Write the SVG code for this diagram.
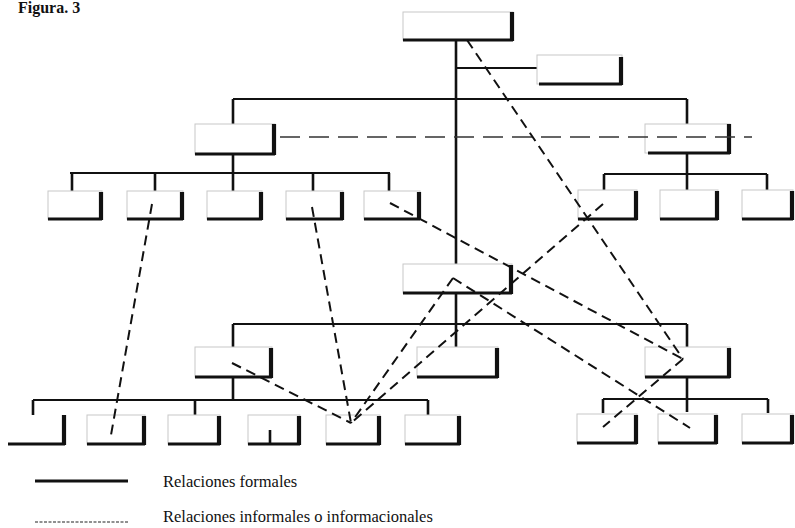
<svg xmlns="http://www.w3.org/2000/svg" width="795" height="528" viewBox="0 0 795 528">
<style>
.bx{fill:none;stroke:#c8c8c8;stroke-width:1}
.sb{fill:none;stroke:#111;stroke-width:2.8}
.sr{fill:none;stroke:#111;stroke-width:4.2}
.sol{fill:none;stroke:#111;stroke-width:2.6}
.hz{fill:none;stroke:#111;stroke-width:2.2}
.dsh{fill:none;stroke:#111;stroke-width:2;stroke-dasharray:10 6}
.dlong{fill:none;stroke:#333;stroke-width:1.5;stroke-dasharray:20 9}
.t{font-family:"Liberation Serif","Times New Roman",serif;fill:#111}
</style>
<rect width="795" height="528" fill="#fff"/>
<text class="t" x="18" y="13" font-size="16" font-weight="bold">Figura. 3</text>

<g id="formal-connectors">
<path class="sol" d="M456,40V264M456,293V347"/>
<path class="hz" d="M456,68H537"/>
<path class="hz" d="M233,99H687"/>
<path class="sol" d="M233,99V124M687,99V124"/>
<path class="sol" d="M233,154V173M687,153V174"/>
<path class="hz" d="M70,173H390M604,174H767"/>
<path class="sol" d="M72,173V191M155,173V191M233,173V191M313,173V191M389,173V191M604,174V190M687,174V190M767,174V190"/>
<path class="hz" d="M233,324H687"/>
<path class="sol" d="M233,324V347M687,324V347"/>
<path class="sol" d="M233,377V400M687,377V412"/>
<path class="hz" d="M33,400H428M603,399H768"/>
<path class="sol" d="M33,400V415M195,400V415M428,400V415M603,399V413M768,399V413"/>
</g>

<g id="n-top"><rect class="bx" x="403" y="12" width="110" height="28"/><path class="sb" d="M403,40H513"/><path class="sr" d="M512,12V41"/></g>
<g id="n-staff"><rect class="bx" x="537" y="55" width="85" height="29"/><path class="sb" d="M539,84H622"/><path class="sr" d="M621,57V85"/></g>
<g id="n-l1a"><rect class="bx" x="195" y="124" width="80" height="30"/><path class="sb" d="M195,154H275"/><path class="sr" d="M274,124V155"/></g>
<g id="n-l1b"><rect class="bx" x="645" y="124" width="85" height="29"/><path class="sb" d="M648,153H730"/><path class="sr" d="M729,124V154"/></g>

<g id="n-r1b1"><rect class="bx" x="48" y="191" width="54" height="28"/><path class="sb" d="M48,219H102"/><path class="sr" d="M101,192V220"/></g>
<g id="n-r1b2"><rect class="bx" x="127" y="191" width="56" height="28"/><path class="sb" d="M127,219H183"/><path class="sr" d="M182,192V220"/></g>
<g id="n-r1b3"><rect class="bx" x="207" y="191" width="55" height="28"/><path class="sb" d="M207,219H262"/><path class="sr" d="M261,192V220"/></g>
<g id="n-r1b4"><rect class="bx" x="286" y="191" width="57" height="28"/><path class="sb" d="M286,219H343"/><path class="sr" d="M342,192V220"/></g>
<g id="n-r1b5"><rect class="bx" x="364" y="191" width="56" height="28"/><path class="sb" d="M364,219H420"/><path class="sr" d="M419,192V220"/></g>
<g id="n-r1b6"><rect class="bx" x="578" y="190" width="59" height="29"/><path class="sb" d="M578,219H637"/><path class="sr" d="M636,191V220"/></g>
<g id="n-r1b7"><rect class="bx" x="660" y="190" width="58" height="29"/><path class="sb" d="M660,219H718"/><path class="sr" d="M717,191V220"/></g>
<g id="n-r1b8"><rect class="bx" x="742" y="190" width="51" height="29"/><path class="sb" d="M742,219H793"/><path class="sr" d="M792,191V220"/></g>

<g id="n-center"><rect class="bx" x="403" y="264" width="109" height="29"/><path class="sb" d="M403,293H512"/><path class="sr" d="M511,265V294"/></g>

<g id="n-l3a"><rect class="bx" x="195" y="347" width="77" height="30"/><path class="sb" d="M195,377H272"/><path class="sr" d="M271,348V378"/></g>
<g id="n-l3b"><rect class="bx" x="417" y="347" width="81" height="30"/><path class="sb" d="M417,377H498"/><path class="sr" d="M497,348V378"/></g>
<g id="n-l3c"><rect class="bx" x="645" y="347" width="85" height="30"/><path class="sb" d="M645,377H730"/><path class="sr" d="M729,348V378"/></g>

<g id="n-r3b1"><path class="sb" d="M8,444H65"/><path class="sr" d="M64,415V445"/></g>
<g id="n-r3b2"><rect class="bx" x="87" y="415" width="58" height="29"/><path class="sb" d="M87,444H145"/><path class="sr" d="M144,416V445"/></g>
<g id="n-r3b3"><rect class="bx" x="168" y="415" width="52" height="29"/><path class="sb" d="M168,444H220"/><path class="sr" d="M219,416V445"/></g>
<g id="n-r3b4"><rect class="bx" x="248" y="415" width="52" height="29"/><path class="sb" d="M248,444H300"/><path class="sr" d="M299,416V445"/><path class="sol" d="M270,430V444"/></g>
<g id="n-r3b5"><rect class="bx" x="326" y="415" width="54" height="29"/><path class="sb" d="M326,444H380"/><path class="sr" d="M379,416V445"/></g>
<g id="n-r3b6"><rect class="bx" x="405" y="415" width="55" height="29"/><path class="sb" d="M405,444H460"/><path class="sr" d="M459,416V445"/></g>
<g id="n-r3b7"><rect class="bx" x="577" y="414" width="60" height="29"/><path class="sb" d="M577,443H637"/><path class="sr" d="M636,415V444"/></g>
<g id="n-r3b8"><rect class="bx" x="658" y="414" width="59" height="29"/><path class="sb" d="M658,443H717"/><path class="sr" d="M716,415V444"/></g>
<g id="n-r3b9"><rect class="bx" x="742" y="414" width="51" height="29"/><path class="sb" d="M742,443H793"/><path class="sr" d="M792,415V444"/></g>

<g id="informal-connectors">
<path class="dlong" d="M280,137H752"/>
<path class="dsh" d="M467,40L683,359"/>
<path class="dsh" d="M390,203L683,359"/>
<path class="dsh" d="M683,359L603,427"/>
<path class="dsh" d="M603,204L351,423"/>
<path class="dsh" d="M453,278L351,423"/>
<path class="dsh" d="M453,278L690,428"/>
<path class="dsh" d="M152,204L111,435"/>
<path class="dsh" d="M312,207L351,423"/>
<path class="dsh" d="M232,363L351,423"/>
</g>

<g id="legend">
<path d="M35,481H128" stroke="#111" stroke-width="3"/>
<text class="t" x="163" y="487" font-size="16.5">Relaciones formales</text>
<path d="M35,522H128" stroke="#222" stroke-width="1.2" stroke-dasharray="3 1.5"/>
<text class="t" x="163" y="522" font-size="16.5">Relaciones informales o informacionales</text>
</g>
</svg>
